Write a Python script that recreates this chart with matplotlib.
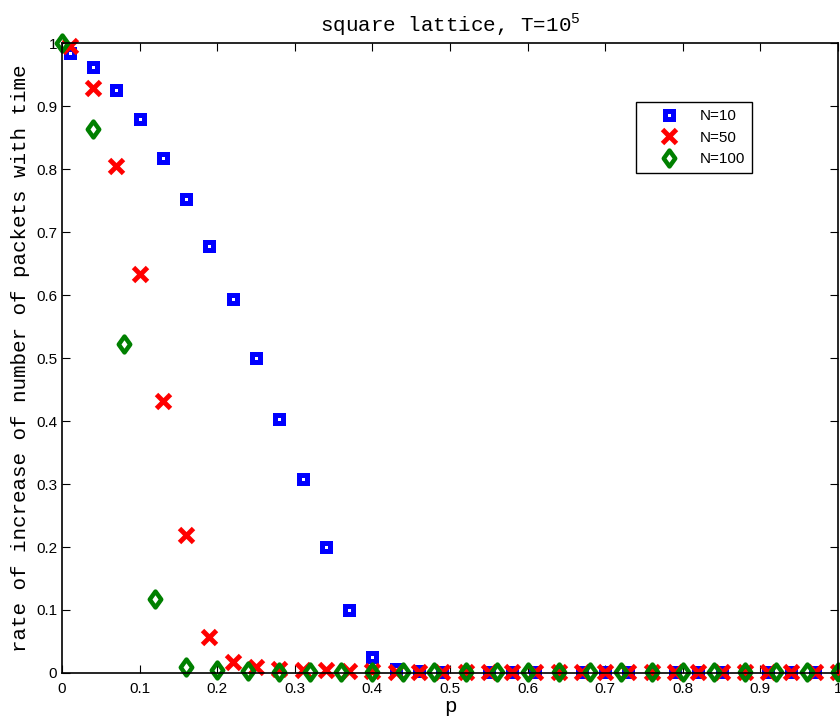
import numpy as np
import matplotlib
matplotlib.use('Agg')
import matplotlib.pyplot as plt
from matplotlib.path import Path

# p values
p_10 = [0.01, 0.04, 0.07, 0.10, 0.13, 0.16, 0.19, 0.22, 0.25, 0.28, 0.31, 0.34,
        0.37, 0.40, 0.43, 0.46, 0.49, 0.52, 0.55, 0.58, 0.61, 0.64, 0.67, 0.70,
        0.73, 0.76, 0.79, 0.82, 0.85, 0.88, 0.91, 0.94, 0.97, 1.00]
rate_10 = [0.985, 0.962, 0.925, 0.879, 0.818, 0.753, 0.678, 0.594, 0.500, 0.404,
           0.308, 0.200, 0.100, 0.025, 0.006, 0.003, 0.002, 0.002, 0.001, 0.001,
           0.001, 0.001, 0.001, 0.001, 0.001, 0.001, 0.001, 0.001, 0.001, 0.001,
           0.001, 0.001, 0.001, 0.001]

p_50 = p_10
rate_50 = [0.995, 0.928, 0.805, 0.633, 0.431, 0.219, 0.057, 0.018, 0.010, 0.006,
           0.004, 0.004, 0.003, 0.003, 0.002, 0.002, 0.002, 0.002, 0.002, 0.002,
           0.002, 0.002, 0.002, 0.002, 0.002, 0.002, 0.002, 0.002, 0.002, 0.002,
           0.002, 0.002, 0.002, 0.002]

p_100 = [0.00, 0.04, 0.08, 0.12, 0.16, 0.20, 0.24, 0.28, 0.32, 0.36, 0.40, 0.44,
         0.48, 0.52, 0.56, 0.60, 0.64, 0.68, 0.72, 0.76, 0.80, 0.84, 0.88, 0.92,
         0.96, 1.00]
rate_100 = [1.000, 0.863, 0.523, 0.118, 0.010, 0.005, 0.003, 0.002, 0.001, 0.001,
            0.001, 0.001, 0.001, 0.001, 0.001, 0.001, 0.001, 0.001, 0.001, 0.001,
            0.001, 0.001, 0.001, 0.001, 0.001, 0.001]

ticks = [0, 0.1, 0.2, 0.3, 0.4, 0.5, 0.6, 0.7, 0.8, 0.9, 1]
tick_labels = ['0', '0.1', '0.2', '0.3', '0.4', '0.5', '0.6', '0.7', '0.8', '0.9', '1']

plt.rcParams['font.family'] = 'Liberation Sans'
mono = 'Liberation Mono'

# matlab style diamond, a bit narrower than tall
diamond = Path([(0, 1), (0.72, 0), (0, -1), (-0.72, 0), (0, 1)],
               [Path.MOVETO, Path.LINETO, Path.LINETO, Path.LINETO, Path.CLOSEPOLY])

fig = plt.figure(figsize=(8.4, 7.18), dpi=100)
ax = fig.add_axes([0.0738, 0.0627, 0.9238, 0.8773])

ax.plot(p_10, rate_10, 's', color='blue', mfc='none', mec='blue', ms=5.4, mew=3.6,
        clip_on=False, label='N=10')
ax.plot(p_50, rate_50, 'x', color='red', ms=10, mew=3.5, clip_on=False, label='N=50')
ax.plot(p_100, rate_100, marker=diamond, ls='none', color='green', mfc='none',
        mec='green', ms=11.5, mew=3.2, clip_on=False, label='N=100')

ax.set_xlim(0, 1)
ax.set_ylim(0, 1)
ax.set_xticks(ticks)
ax.set_xticklabels(tick_labels)
ax.set_yticks(ticks)
ax.set_yticklabels(tick_labels)
ax.tick_params(direction='in', top=True, right=True, labelsize=11, length=6)
ax.tick_params(axis='x', pad=6.5)
ax.tick_params(axis='y', pad=3.5)
for s in ax.spines.values():
    s.set_linewidth(1.2)

ax.set_title(r'square lattice, T=10$^{\mathregular{5}}$', family=mono, fontsize=15, pad=8)
ax.set_xlabel('p', family=mono, fontsize=15, labelpad=1)
ax.set_ylabel('rate of increase of number of packets with time', family=mono,
              fontsize=15, labelpad=4)

leg = ax.legend(loc='upper left', bbox_to_anchor=(0.74, 0.906), fontsize=11,
                fancybox=False, edgecolor='black', framealpha=1, handlelength=3.4,
                handletextpad=0.3, borderpad=0.45, labelspacing=0.5, borderaxespad=0)
leg.get_frame().set_linewidth(1.0)

fig.savefig('out.png', dpi=100)
